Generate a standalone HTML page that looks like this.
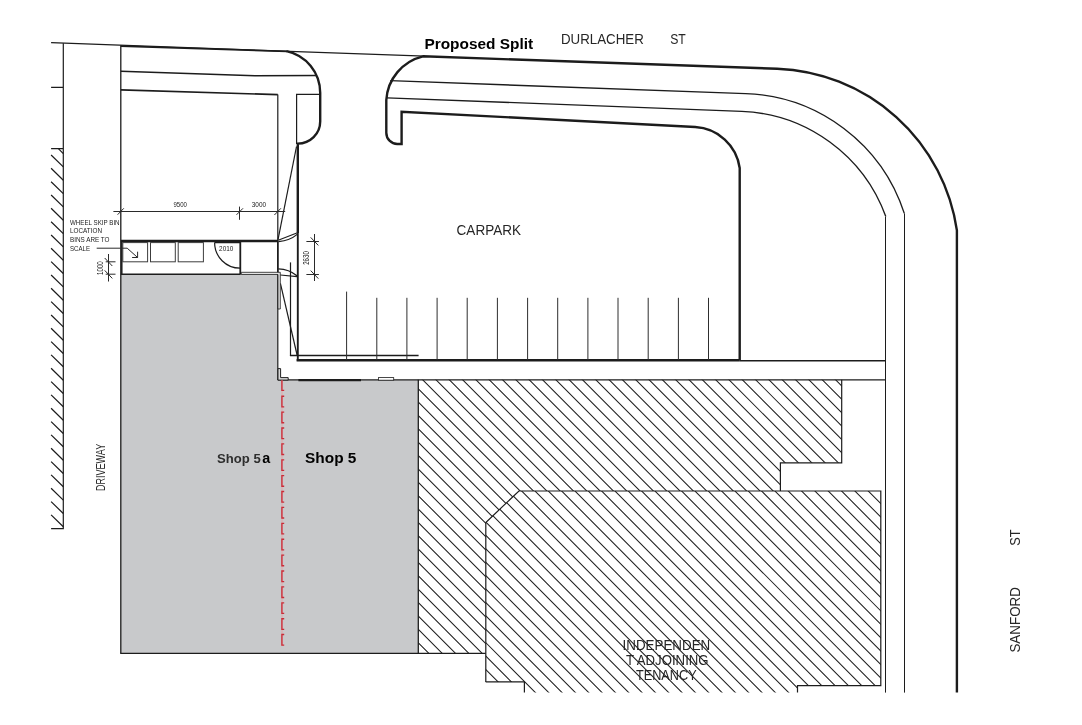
<!DOCTYPE html>
<html><head><meta charset="utf-8"><title>Proposed Split</title>
<style>
html,body{margin:0;padding:0;background:#fff;}
body{width:1082px;height:725px;overflow:hidden;font-family:"Liberation Sans",sans-serif;}
svg{display:block;will-change:transform;transform:translateZ(0)}
text{font-family:"Liberation Sans",sans-serif;}
.t{fill:none;stroke:#1c1c1c;stroke-width:1.2}
.m{fill:none;stroke:#1c1c1c;stroke-width:1.6}
.k{fill:none;stroke:#1c1c1c;stroke-width:2.4}
.h{fill:none;stroke:#1e1e1e;stroke-width:1.05}
.d{fill:none;stroke:#2a2a2a;stroke-width:1}
.lbl{font-size:13.8px;fill:#262626}
.dim{font-size:7.8px;fill:#222}
</style></head><body>
<svg width="1082" height="725" viewBox="0 0 1082 725">
<defs>
<clipPath id="hc"><path d="M418.3 379.7H841.7V462.8H780.4V491H518.9L485.8 522.5V653.3H418.3Z"/></clipPath>
<clipPath id="hb"><path d="M518.9 491H880.8V685.6H797.5V692.6H524.4V681.9H485.8V522.5Z"/></clipPath>
</defs>
<rect width="1082" height="725" fill="#fff"/>

<!-- building fill -->
<path d="M120.8 274.4H277.6V380.1H418.3V653.3H120.8Z" fill="#c8c9cb"/>

<!-- hatch -->
<g clip-path="url(#hc)"><path class="h" d="M400 758.06L900 1259.86M400 744.69L900 1246.49M400 731.32L900 1233.12M400 717.95L900 1219.75M400 704.59L900 1206.39M400 691.22L900 1193.02M400 677.85L900 1179.65M400 664.48L900 1166.28M400 651.11L900 1152.91M400 637.75L900 1139.55M400 624.38L900 1126.18M400 611.01L900 1112.81M400 597.64L900 1099.44M400 584.27L900 1086.07M400 570.91L900 1072.71M400 557.54L900 1059.34M400 544.17L900 1045.97M400 530.80L900 1032.60M400 517.43L900 1019.23M400 504.07L900 1005.87M400 490.70L900 992.50M400 477.33L900 979.13M400 463.96L900 965.76M400 450.59L900 952.39M400 437.23L900 939.03M400 423.86L900 925.66M400 410.49L900 912.29M400 397.12L900 898.92M400 383.75L900 885.55M400 370.39L900 872.19M400 357.02L900 858.82M400 343.65L900 845.45M400 330.28L900 832.08M400 316.91L900 818.71M400 303.55L900 805.35M400 290.18L900 791.98M400 276.81L900 778.61M400 263.44L900 765.24M400 250.08L900 751.88M400 236.71L900 738.51M400 223.34L900 725.14M400 209.97L900 711.77M400 196.60L900 698.40M400 183.24L900 685.04M400 169.87L900 671.67M400 156.50L900 658.30M400 143.13L900 644.93M400 129.76L900 631.56M400 116.40L900 618.20M400 103.03L900 604.83M400 89.66L900 591.46M400 76.29L900 578.09M400 62.92L900 564.72M400 49.56L900 551.36M400 36.19L900 537.99M400 22.82L900 524.62M400 9.45L900 511.25M400 -3.92L900 497.88M400 -17.28L900 484.52M400 -30.65L900 471.15M400 -44.02L900 457.78M400 -57.39L900 444.41M400 -70.76L900 431.04M400 -84.12L900 417.68M400 -97.49L900 404.31M400 -110.86L900 390.94M400 -124.23L900 377.57M400 -137.60L900 364.20M400 -150.96L900 350.84M400 -164.33L900 337.47M400 -177.70L900 324.10M400 -191.07L900 310.73M400 -204.44L900 297.36M400 -217.80L900 284.00M400 -231.17L900 270.63"/></g>
<g clip-path="url(#hb)"><path class="h" d="M400 744.10L900 1247.10M400 730.69L900 1233.69M400 717.28L900 1220.28M400 703.87L900 1206.87M400 690.46L900 1193.46M400 677.05L900 1180.05M400 663.64L900 1166.64M400 650.23L900 1153.23M400 636.82L900 1139.82M400 623.41L900 1126.41M400 610.00L900 1113.00M400 596.59L900 1099.59M400 583.18L900 1086.18M400 569.77L900 1072.77M400 556.36L900 1059.36M400 542.95L900 1045.95M400 529.54L900 1032.54M400 516.13L900 1019.13M400 502.72L900 1005.72M400 489.31L900 992.31M400 475.90L900 978.90M400 462.49L900 965.49M400 449.08L900 952.08M400 435.67L900 938.67M400 422.26L900 925.26M400 408.85L900 911.85M400 395.44L900 898.44M400 382.03L900 885.03M400 368.62L900 871.62M400 355.21L900 858.21M400 341.80L900 844.80M400 328.39L900 831.39M400 314.98L900 817.98M400 301.57L900 804.57M400 288.16L900 791.16M400 274.75L900 777.75M400 261.34L900 764.34M400 247.93L900 750.93M400 234.52L900 737.52M400 221.11L900 724.11M400 207.70L900 710.70M400 194.29L900 697.29M400 180.88L900 683.88M400 167.47L900 670.47M400 154.06L900 657.06M400 140.65L900 643.65M400 127.24L900 630.24M400 113.83L900 616.83M400 100.42L900 603.42M400 87.01L900 590.01M400 73.60L900 576.60M400 60.19L900 563.19M400 46.78L900 549.78M400 33.37L900 536.37M400 19.96L900 522.96M400 6.55L900 509.55M400 -6.86L900 496.14M400 -20.27L900 482.73M400 -33.68L900 469.32M400 -47.09L900 455.91M400 -60.50L900 442.50M400 -73.91L900 429.09M400 -87.32L900 415.68M400 -100.73L900 402.27M400 -114.14L900 388.86M400 -127.55L900 375.45M400 -140.96L900 362.04M400 -154.37L900 348.63M400 -167.78L900 335.22M400 -181.19L900 321.81M400 -194.60L900 308.40M400 -208.01L900 294.99M400 -221.42L900 281.58M400 -234.83L900 268.17M400 -248.24L900 254.76"/></g>
<!-- hatch outlines -->
<path class="t" d="M277.6 379.8H885.9"/>
<path class="t" d="M841.7 379.7V462.8H780.4V491"/>
<path class="t" d="M485.8 681.9V522.5L518.9 491H880.8V685.6H797.5V692.6"/>
<path class="t" d="M485.7 681.9H524.4V692.6"/>

<!-- left hatch strip -->
<path class="t" d="M63.3 43.2V528.7H51.1M51.1 148.7H63.3M51.1 87.3H63.3"/>
<path class="t" d="M58.4 148.7L63.3 153.6M51.1 155.0L63.3 166.9M51.1 168.3L63.3 180.2M51.1 181.7L63.3 193.6M51.1 195.0L63.3 206.9M51.1 208.3L63.3 220.2M51.1 221.7L63.3 233.6M51.1 235.0L63.3 246.9M51.1 248.3L63.3 260.2M51.1 261.6L63.3 273.5M51.1 275.0L63.3 286.9M51.1 288.3L63.3 300.2M51.1 301.6L63.3 313.5M51.1 315.0L63.3 326.9M51.1 328.3L63.3 340.2M51.1 341.6L63.3 353.5M51.1 354.9L63.3 366.8M51.1 368.3L63.3 380.2M51.1 381.6L63.3 393.5M51.1 394.9L63.3 406.8M51.1 408.3L63.3 420.2M51.1 421.6L63.3 433.5M51.1 434.9L63.3 446.8M51.1 448.3L63.3 460.2M51.1 461.6L63.3 473.5M51.1 474.9L63.3 486.8M51.1 488.2L63.3 500.1M51.1 501.6L63.3 513.5M51.1 514.9L63.3 526.8"/>

<!-- top boundary thin line -->
<path class="t" d="M51.1 42.7L425 56.2"/>
<!-- left building/boundary vertical -->
<path class="t" style="stroke-width:1.3" d="M120.8 45.3V653.3"/>
<path class="t" style="stroke-width:1.3" d="M120.2 653.3H485.7"/>
<path class="t" style="stroke-width:1.3" d="M418.3 379.8V653.3"/>

<!-- left footpath -->
<path class="k" style="stroke-width:1.7" d="M120.8 46.2L287 51.4"/>
<path class="k" d="M286.5 51.1A42.6 42.6 0 0 1 320.2 92.8V121.5A22.4 22.1 0 0 1 297.8 143.6V233"/>
<path class="k" style="stroke-width:1.9" d="M297.8 232V361"/>
<path class="m" d="M120.8 71.2L255 75.7L316.6 75.5"/>
<path class="m" d="M120.8 89.9L277.8 94.6"/>
<path class="t" d="M277.8 94.6V380"/><path class="m" d="M277.8 241V275"/>
<path class="t" d="M296.6 144V94.3H320.2"/>

<!-- right kerb thick -->
<path class="k" d="M956.9 692.6V230.4A188.9 188.9 0 0 0 777.2 68.75L423 56.3A48 48 0 0 0 386.3 100V132.7A11 11.3 0 0 0 397.3 144H401.6V111.7L695.2 127.07A47.5 47.5 0 0 1 739.7 168V360.4"/>
<path class="m" style="stroke-width:1.35" d="M390.2 80.7L745.6 93.6A173.2 173.2 0 0 1 904.3 213.4"/>
<path class="t" style="stroke-width:1" d="M904.5 213.4V692.6"/>
<path class="m" style="stroke-width:1.35" d="M387 97.8L741.8 111.4A159.9 159.9 0 0 1 885.8 216.6"/>
<path class="t" style="stroke-width:1" d="M885.5 216.6V692.6"/>

<!-- carpark bottom -->
<path class="k" d="M296.6 360.2H739.7"/>
<path class="m" d="M739.7 360.8H885.9"/>
<path class="m" d="M289.9 355.5H418.6"/>
<path class="t" d="M290.5 262.4V355.5"/>
<!-- parking lines -->
<path class="t" style="stroke-width:1;stroke:#2e2e2e" d="M346.6 291.6V360M376.8 297.8V360M406.9 297.8V360M437.1 297.8V360M467.2 297.8V360M497.4 297.8V360M527.6 297.8V360M557.7 297.8V360M587.9 297.8V360M618.0 297.8V360M648.2 297.8V360M678.4 297.8V360M708.5 297.8V360"/>

<!-- diagonals near gate -->
<path class="t" d="M296.5 146.5L278 239.6"/>
<path class="t" d="M280.4 283.4L297.2 355.5"/>

<!-- dimension line 9500/3000 -->
<path class="d" d="M113.4 211.5H285.2M239.5 206.6V219.8M117.6 214.7L123.8 208.3M236.5 214.8L243 208.3M274.4 215L280.9 208.3"/>
<!-- dimension 2630 -->
<path class="d" d="M314.5 234V281M306.4 241.5H318.9M306.4 274.5H318.9M310.7 237.4L318.3 245.4M310.7 270.6L318.3 278.6"/>
<!-- dimension 1000 -->
<path class="d" d="M108.5 254V281.5M105.7 261.8H115.5M105.7 274.2H115.5M104.7 258L112.3 266M104.7 270.4L112.3 278.4"/>

<!-- bin enclosure -->
<path class="k" d="M120.8 241H278"/>
<path class="k" style="stroke-width:1.5" d="M121.8 241V274.4"/>
<path class="k" style="stroke-width:1.8" d="M240.3 241V274.6"/>
<path class="m" d="M120.8 274.3H240.3"/>
<rect class="t" style="stroke:#3c3c3c;stroke-width:1" x="122.8" y="242.6" width="24.8" height="19.2"/>
<rect class="t" style="stroke:#3c3c3c;stroke-width:1" x="150.5" y="242.6" width="24.8" height="19.2"/>
<rect class="t" style="stroke:#3c3c3c;stroke-width:1" x="178.2" y="242.6" width="25.2" height="19.2"/>
<!-- arrow -->
<path class="d" d="M96.7 248.2H127.2L137.6 257.5M137.6 251.7V257.5H132.1"/>
<!-- door 2010 -->
<path class="t" d="M214.6 242.6H240M214.6 242.6A25.6 25.6 0 0 0 240.2 268.2"/>
<!-- wall top of shop right part -->
<path d="M241.3 272.3H280.3V309H278V274.5H241.3Z" fill="#e4e4e4" stroke="#1c1c1c" stroke-width="0.8"/>
<!-- gates -->
<path class="t" d="M278.2 240.2L296.8 233M278.6 241.6Q290 240.5 297.2 234.4"/>
<path class="t" d="M278.3 268.8Q289 269 297 275.8M280.4 275L297 276.6"/>

<!-- bottom of walkway / shop front -->
<path d="M278 368.6H280.6V377.6H288.2V380.1H278Z" fill="#d8d8d8" stroke="#222" stroke-width="1"/>
<path class="k" d="M298.4 380.1H361"/>
<rect x="378.4" y="377.6" width="15.3" height="2.6" fill="#fff" stroke="#1c1c1c" stroke-width="0.8"/>

<!-- red split line -->
<path d="M282 380.3V646" stroke="#e7a4a6" stroke-width="1" fill="none"/>
<path fill="none" stroke="#c92c38" stroke-width="1.35" d="M281.9 380.3V390.4H284.2M284.2 396.2H281.9V406.8H284.2M284.2 412.1H281.9V422.7H284.2M284.2 428.0H281.9V438.6H284.2M284.2 443.9H281.9V454.5H284.2M284.2 459.8H281.9V470.4H284.2M284.2 475.6H281.9V486.2H284.2M284.2 491.5H281.9V502.1H284.2M284.2 507.4H281.9V518.0H284.2M284.2 523.3H281.9V533.9H284.2M284.2 539.2H281.9V549.8H284.2M284.2 555.1H281.9V565.7H284.2M284.2 571.0H281.9V581.6H284.2M284.2 586.9H281.9V597.5H284.2M284.2 602.8H281.9V613.4H284.2M284.2 618.7H281.9V629.3H284.2M284.2 634.5H281.9V645.1H284.2"/>

<!-- texts -->
<text x="424.4" y="49.1" font-size="14.2" font-weight="bold" fill="#000" textLength="108.8" lengthAdjust="spacingAndGlyphs">Proposed Split</text>
<text class="lbl" x="561" y="44.2" textLength="82.8" lengthAdjust="spacingAndGlyphs">DURLACHER</text>
<text class="lbl" x="670.2" y="44.2" textLength="15.6" lengthAdjust="spacingAndGlyphs">ST</text>
<text class="lbl" x="456.6" y="234.9" textLength="64.4" lengthAdjust="spacingAndGlyphs">CARPARK</text>
<text class="lbl" x="622.6" y="650" textLength="87.6" lengthAdjust="spacingAndGlyphs">INDEPENDEN</text>
<text class="lbl" x="626" y="665.2" textLength="82.6" lengthAdjust="spacingAndGlyphs">T ADJOINING</text>
<text class="lbl" x="636" y="680.1" textLength="60.6" lengthAdjust="spacingAndGlyphs">TENANCY</text>
<text class="lbl" transform="translate(1020.2 652.6) rotate(-90)" textLength="65.6" lengthAdjust="spacingAndGlyphs">SANFORD</text>
<text class="lbl" transform="translate(1020.2 545.8) rotate(-90)" textLength="16.4" lengthAdjust="spacingAndGlyphs">ST</text>
<text transform="translate(104.8 491) rotate(-90)" font-size="12" fill="#2a2a2a" textLength="47.2" lengthAdjust="spacingAndGlyphs">DRIVEWAY</text>

<text x="217.1" y="463.1" font-size="13" font-weight="bold" fill="#2e2e2e" textLength="43.6" lengthAdjust="spacingAndGlyphs">Shop 5</text>
<text x="262.3" y="463.1" font-size="14.5" font-weight="bold" fill="#000" textLength="8" lengthAdjust="spacingAndGlyphs">a</text>
<text x="305.1" y="463.2" font-size="14" font-weight="bold" fill="#000" textLength="51.3" lengthAdjust="spacingAndGlyphs">Shop 5</text>

<text class="dim" x="173.4" y="206.7" textLength="13.5" lengthAdjust="spacingAndGlyphs">9500</text>
<text class="dim" x="251.8" y="206.8" textLength="14.3" lengthAdjust="spacingAndGlyphs">3000</text>
<text class="dim" x="219.1" y="250.9" textLength="14.2" lengthAdjust="spacingAndGlyphs">2010</text>
<text class="dim" style="font-size:9px" transform="translate(309.4 264.8) rotate(-90)" textLength="13.6" lengthAdjust="spacingAndGlyphs">2630</text>
<text class="dim" style="font-size:9px" transform="translate(103 275) rotate(-90)" textLength="13.8" lengthAdjust="spacingAndGlyphs">1000</text>
<text class="dim" x="70" y="224.8" textLength="49.6" lengthAdjust="spacingAndGlyphs">WHEEL SKIP BIN</text>
<text class="dim" x="70" y="232.8" textLength="32" lengthAdjust="spacingAndGlyphs">LOCATION</text>
<text class="dim" x="70" y="241.6" textLength="39.5" lengthAdjust="spacingAndGlyphs">BINS ARE TO</text>
<text class="dim" x="70" y="250.6" textLength="20" lengthAdjust="spacingAndGlyphs">SCALE</text>
</svg>
</body></html>
